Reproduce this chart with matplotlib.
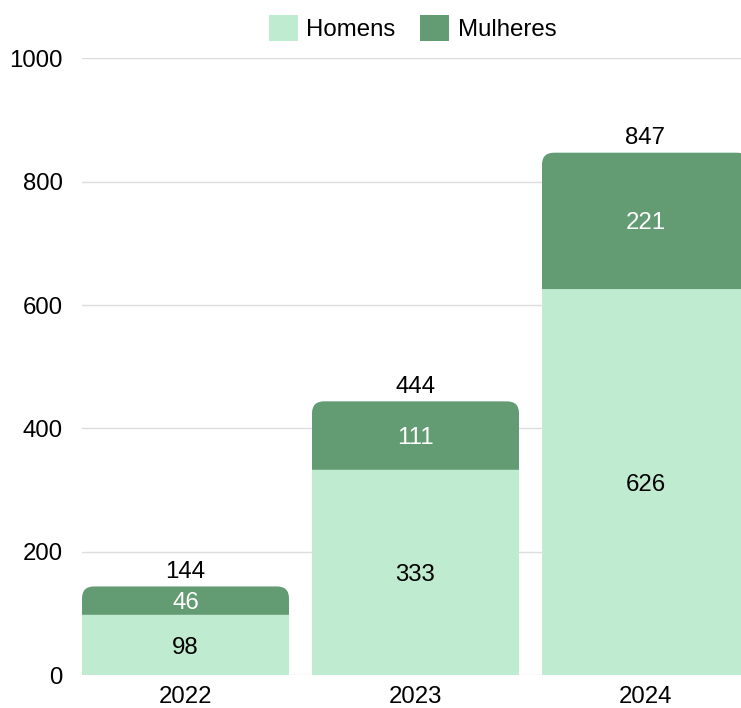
import numpy as np
import matplotlib
matplotlib.use('Agg')
import matplotlib.pyplot as plt
from matplotlib.path import Path
from matplotlib.patches import PathPatch, Patch

plt.rcParams['font.family'] = ['Liberation Sans', 'DejaVu Sans']

anos = ['2022', '2023', '2024']
homens = [98, 333, 626]
mulheres = [46, 111, 221]

verde_claro = '#bfebd0'
verde_escuro = '#639b72'
fs = 17.3

W, H = 741, 708
fig = plt.figure(figsize=(W / 100, H / 100), dpi=100)
# the plot area runs a little past the right edge of the picture
ax = fig.add_axes([82 / W, 32.7 / H, 667 / W, 617 / H])

x = np.arange(len(anos))
largura = 0.9
ax.set_xlim(-largura / 2, len(anos) - 1 + largura / 2)
ax.set_ylim(0, 1000)

b1 = ax.bar(x, homens, width=largura, color=verde_claro, zorder=2)
b2 = ax.bar(x, mulheres, width=largura, bottom=homens, color=verde_escuro, zorder=2)

# round the top corners of the upper segment
raio = 12
px_x = ax.transData.transform((1, 0))[0] - ax.transData.transform((0, 0))[0]
px_y = ax.transData.transform((0, 1))[1] - ax.transData.transform((0, 0))[1]
rx, ry = raio / px_x, raio / px_y
for r in b2.patches:
    x0, y0, w, h = r.get_x(), r.get_y(), r.get_width(), r.get_height()
    verts = [(x0, y0), (x0 + w, y0), (x0 + w, y0 + h - ry), (x0 + w, y0 + h),
             (x0 + w - rx, y0 + h), (x0 + rx, y0 + h), (x0, y0 + h),
             (x0, y0 + h - ry), (x0, y0)]
    codes = [Path.MOVETO, Path.LINETO, Path.LINETO, Path.CURVE3, Path.CURVE3,
             Path.LINETO, Path.CURVE3, Path.CURVE3, Path.CLOSEPOLY]
    ax.add_patch(PathPatch(Path(verts, codes), facecolor=verde_escuro,
                           edgecolor='none', zorder=2))
    r.remove()

# labels inside and above
for i in range(len(anos)):
    ax.text(x[i], homens[i] / 2, str(homens[i]), ha='center', va='center_baseline',
            fontsize=fs, color='black', zorder=3)
    ax.text(x[i], homens[i] + mulheres[i] / 2, str(mulheres[i]), ha='center',
            va='center_baseline', fontsize=fs, color='white', zorder=3)
    total = homens[i] + mulheres[i]
    ax.annotate(str(total), (x[i], total), xytext=(0, 2.5), textcoords='offset points',
                ha='center', va='bottom', fontsize=fs, color='black')

ax.set_xticks(x)
ax.set_xticklabels(anos)
ax.set_yticks(np.arange(0, 1001, 200))
ax.tick_params(axis='both', length=0, labelsize=fs)
ax.tick_params(axis='y', pad=14)
ax.tick_params(axis='x', pad=8)
for s in ax.spines.values():
    s.set_visible(False)
ax.yaxis.grid(True, color='#dddddd', linewidth=1)
ax.set_axisbelow(True)

handles = [Patch(facecolor=verde_claro, label='Homens'),
           Patch(facecolor=verde_escuro, label='Mulheres')]
fig.legend(handles=handles, loc='center', bbox_to_anchor=(412.5 / W, 1 - 28 / H),
           ncol=2, frameon=False, fontsize=fs, handlelength=1.2, handleheight=1.25,
           handletextpad=0.35, columnspacing=1.05, borderaxespad=0, borderpad=0)

fig.savefig('out.png', dpi=100)
